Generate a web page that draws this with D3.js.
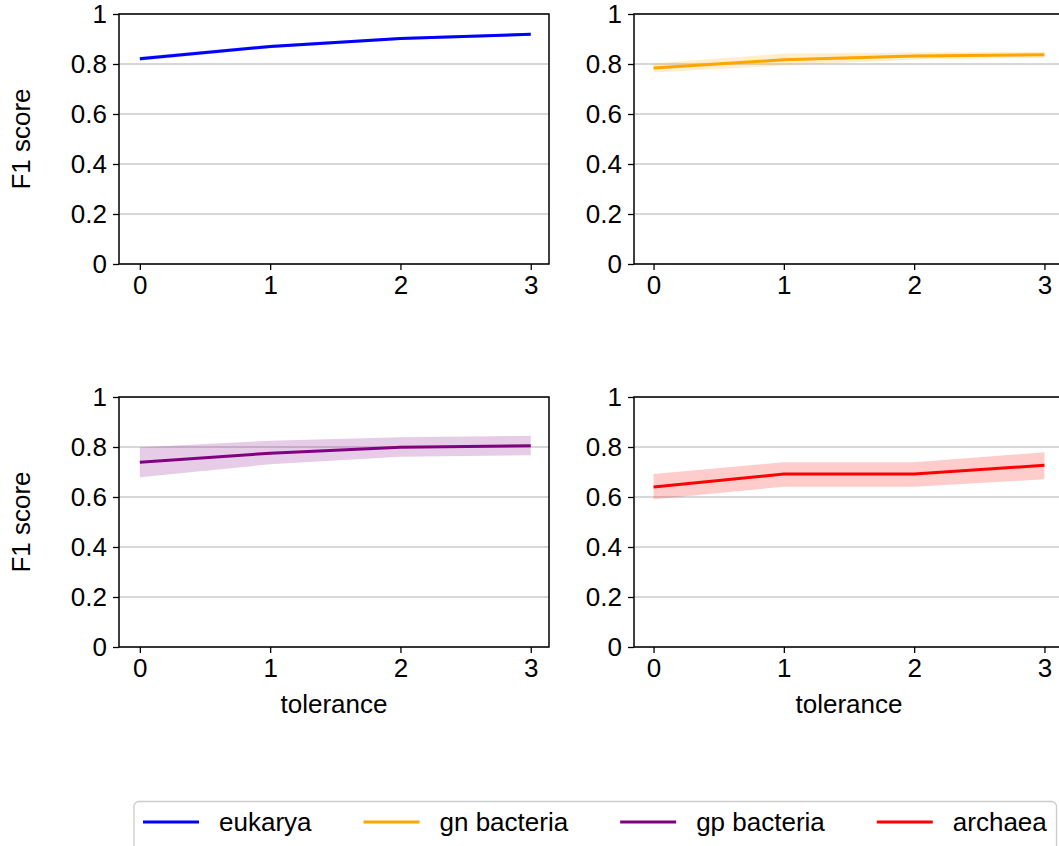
<!DOCTYPE html>
<html lang="en">
<head>
<meta charset="utf-8">
<title>F1 score vs tolerance</title>
<script src="https://cdn.jsdelivr.net/npm/d3@7"></script>
<style>
  * { margin: 0; padding: 0; }
  body { background: #fff; }
  svg { display: block; font-family: "Liberation Sans", Arial, sans-serif; }
</style>
</head>
<body>
<div id="chart"></div>
<script>
  // data
  const tolerance = [0, 1, 2, 3];
  const groupNames = ["eukarya", "gn bacteria", "gp bacteria", "archaea"];
  const groupColors = ["#0000ff", "#ffa500", "#800080", "#ff0000"];

  const eukaryaMean = [0.821, 0.870, 0.902, 0.919];
  const eukaryaLow  = [0.813, 0.863, 0.896, 0.913];
  const eukaryaHigh = [0.829, 0.877, 0.908, 0.925];

  const gnMean = [0.784, 0.817, 0.832, 0.837];
  const gnLow  = [0.766, 0.794, 0.818, 0.825];
  const gnHigh = [0.802, 0.842, 0.846, 0.849];

  const gpMean = [0.739, 0.775, 0.799, 0.805];
  const gpLow  = [0.679, 0.731, 0.761, 0.767];
  const gpHigh = [0.799, 0.825, 0.839, 0.845];

  const archaeaMean = [0.640, 0.692, 0.692, 0.727];
  const archaeaLow  = [0.591, 0.641, 0.641, 0.671];
  const archaeaHigh = [0.692, 0.739, 0.739, 0.779];

  const yTicks = [0, 0.2, 0.4, 0.6, 0.8, 1];

  const means = [eukaryaMean, gnMean, gpMean, archaeaMean];
  const lows = [eukaryaLow, gnLow, gpLow, archaeaLow];
  const highs = [eukaryaHigh, gnHigh, gpHigh, archaeaHigh];

  const W = 1059, H = 846;
  const fs = 26;
  const svg = d3.select("#chart").append("svg")
      .attr("width", W).attr("height", H);

  // panel boxes: left, top, x-domain
  const panels = [
    {x: 119, y: 14, dom: [-0.16, 3.14]}, {x: 634, y: 14, dom: [-0.15, 3.15]},
    {x: 119, y: 397, dom: [-0.16, 3.14]}, {x: 634, y: 397, dom: [-0.15, 3.15]}
  ];
  const pw = 430, ph = 250;

  panels.forEach((p, i) => {
    const x = d3.scaleLinear().domain(p.dom).range([p.x, p.x + pw]);
    const y = d3.scaleLinear().domain([0, 1]).range([p.y + ph, p.y]);
    const g = svg.append("g");

    // grid
    g.selectAll(".grid").data(yTicks).enter().append("line")
      .attr("x1", p.x).attr("x2", p.x + pw)
      .attr("y1", d => y(d)).attr("y2", d => y(d))
      .attr("stroke", "#b0b0b0").attr("stroke-width", 1.2);

    const rows = tolerance.map((t, k) => ({t: t, m: means[i][k], lo: lows[i][k], hi: highs[i][k]}));

    g.append("path").datum(rows)
      .attr("d", d3.area().x(d => x(d.t)).y0(d => y(d.lo)).y1(d => y(d.hi)))
      .attr("fill", groupColors[i]).attr("fill-opacity", 0.2);

    g.append("path").datum(rows)
      .attr("d", d3.line().x(d => x(d.t)).y(d => y(d.m)))
      .attr("fill", "none").attr("stroke", groupColors[i]).attr("stroke-width", 3);

    // axes
    const ya = g.append("g").attr("transform", `translate(${p.x},0)`)
      .call(d3.axisLeft(y).tickValues(yTicks).tickSize(6).tickPadding(6)
        .tickFormat(d => (d === 0 || d === 1) ? d : d.toFixed(1)));
    const xa = g.append("g").attr("transform", `translate(0,${p.y + ph})`)
      .call(d3.axisBottom(x).tickValues(tolerance).tickSize(6).tickPadding(6)
        .tickFormat(d3.format("d")));
    [ya, xa].forEach(a => {
      a.select(".domain").remove();
      a.selectAll("line").attr("stroke", "#000").attr("stroke-width", 1.3);
      a.selectAll("text").attr("fill", "#000")
        .style("font-size", fs + "px").style("font-family", "Liberation Sans, Arial, sans-serif");
    });

    g.append("rect").attr("x", p.x).attr("y", p.y)
      .attr("width", pw).attr("height", ph)
      .attr("fill", "none").attr("stroke", "#000").attr("stroke-width", 1.5);

    if (i % 2 === 0) {
      g.append("text")
        .attr("transform", `translate(30,${p.y + ph / 2}) rotate(-90)`)
        .attr("text-anchor", "middle")
        .style("font-size", fs + "px")
        .text("F1 score");
    }
    if (i >= 2) {
      g.append("text")
        .attr("x", p.x + pw / 2).attr("y", p.y + ph + 66)
        .attr("text-anchor", "middle")
        .style("font-size", fs + "px")
        .text("tolerance");
    }
  });

  // legend
  const leg = svg.append("g");
  leg.append("rect").attr("x", 134).attr("y", 801.5)
    .attr("width", 922.5).attr("height", 50).attr("rx", 5)
    .attr("fill", "#fff").attr("stroke", "#cccccc").attr("stroke-width", 1.3);
  let lx = 143;
  groupNames.forEach((name, i) => {
    leg.append("line").attr("x1", lx).attr("x2", lx + 56)
      .attr("y1", 822).attr("y2", 822)
      .attr("stroke", groupColors[i]).attr("stroke-width", 3);
    const t = leg.append("text").attr("x", lx + 76).attr("y", 822)
      .attr("dy", "0.35em").style("font-size", fs + "px").text(name);
    lx += 76 + t.node().getComputedTextLength() + 52;
  });
</script>
</body>
</html>
